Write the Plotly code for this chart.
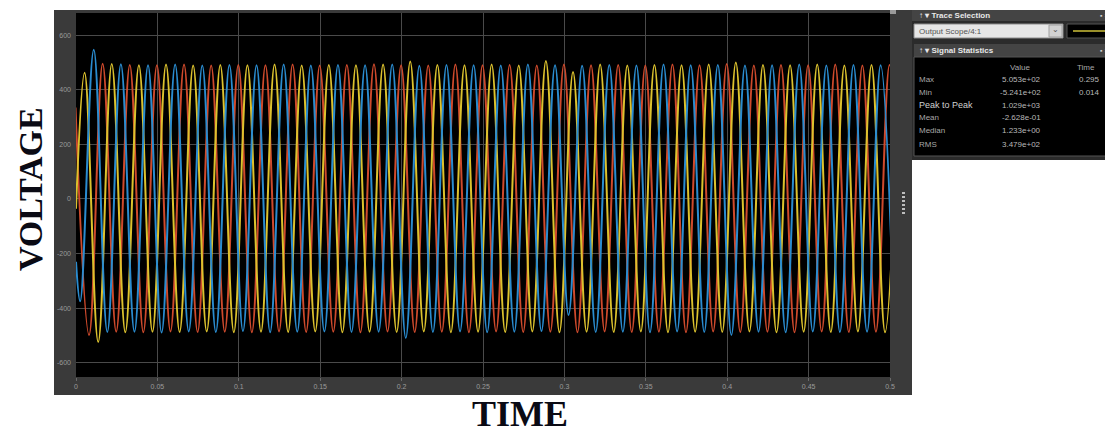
import plotly.graph_objects as go

# ---------------- data ----------------
half_period = 1 / 120          # 60 Hz supply -> extrema every 1/120 s

# phase A (blue): starting value at t=0, then alternating trough/peak values
blue_start_t, blue_start_v = 0.0, -230
blue_first_ext_t = 0.00257
blue_ext = [-375, 546, -487, 493, -486, 490, -489, 492, -485, 489,
            -487, 491, -484, 490, -488, 492, -486, 489, -485, 491,
            -487, 490, -486, 492, -509, 488, -487, 491, -485, 490,
            -488, 489, -486, 492, -484, 490, -425, 488, -487, 491,
            -486, 489, -488, 492, -485, 490, -487, 491, -498, 489,
            -486, 490, -488, 492, -485, 489, -487, 491, -486, 490, -488]

# phase B (red): alternating peak/trough values
red_first_ext_t = -0.0003
red_ext = [335, -498, 495, -486, 491, -488, 490, -485, 492, -487,
           489, -486, 491, -488, 490, -485, 492, -487, 489, -486,
           491, -488, 493, -485, 490, -487, 489, -486, 492, -488,
           490, -485, 491, -487, 489, -486, 492, -488, 490, -485,
           491, -487, 489, -486, 492, -488, 490, -485, 494, -487,
           489, -486, 491, -488, 490, -485, 492, -487, 489, -486,
           491, -488]

# phase C (yellow): starting value at t=0, then alternating peak/trough values
yellow_start_t, yellow_start_v = 0.0, -36
yellow_first_ext_t = 0.0053
yellow_ext = [462, -524, 494, -488, 490, -486, 492, -487, 489, -485,
              491, -488, 490, -486, 492, -487, 489, -485, 491, -488,
              490, -486, 492, -487, 503, -485, 491, -488, 490, -486,
              492, -487, 489, -485, 505, -488, 465, -486, 492, -487,
              489, -485, 491, -488, 490, -486, 492, -487, 500, -485,
              491, -488, 490, -486, 492, -487, 489, -485, 491, -488, 490]

x_ticks = [0, 0.05, 0.1, 0.15, 0.2, 0.25, 0.3, 0.35, 0.4, 0.45, 0.5]
x_tick_labels = ["0", "0.05", "0.1", "0.15", "0.2", "0.25", "0.3", "0.35", "0.4", "0.45", "0.5"]
y_ticks = [-600, -400, -200, 0, 200, 400, 600]
y_tick_labels = ["-600", "-400", "-200", "0", "200", "400", "600"]

stat_labels = ["Max", "Min", "Peak to Peak", "Mean", "Median", "RMS"]
stat_values = ["5.053e+02", "-5.241e+02", "1.029e+03", "-2.628e-01", "1.233e+00", "3.479e+02"]
stat_times = ["0.295", "0.014", "", "", "", ""]

# ---------------- layout helpers ----------------
OFF = 8                      # page body margin in the browser
W, H = 1113 - OFF, 435 - OFF
ML, MR, MT, MB = 76 - OFF, 223, 13 - OFF, 58
PW = W - ML - MR
PH = H - MT - MB


def xp(px):
    return (px - OFF - ML) / PW


def yp(py):
    return (H - MB - (py - OFF)) / PH


def times(t0, n, start=None):
    ts = [t0 + i * half_period for i in range(n)]
    return ([start] if start is not None else []) + ts


blue_t = times(blue_first_ext_t, len(blue_ext), blue_start_t)
blue_v = [blue_start_v] + blue_ext
red_t = times(red_first_ext_t, len(red_ext))
red_v = red_ext
yellow_t = times(yellow_first_ext_t, len(yellow_ext), yellow_start_t)
yellow_v = [yellow_start_v] + yellow_ext

fig = go.Figure()
line_kw = dict(shape="spline", smoothing=1.1, width=2)
fig.add_trace(go.Scatter(x=red_t, y=red_v, mode="lines",
                         line=dict(color="#cf4a2c", **line_kw), name="Phase B"))
fig.add_trace(go.Scatter(x=yellow_t, y=yellow_v, mode="lines",
                         line=dict(color="#dcc22e", **line_kw), name="Phase C"))
fig.add_trace(go.Scatter(x=blue_t, y=blue_v, mode="lines",
                         line=dict(color="#2a8cd0", **line_kw), name="Phase A"))

shapes = []


def rect(x0, y0, x1, y1, fill, line=None, layer="above", lw=1):
    shapes.append(dict(type="rect", xref="paper", yref="paper",
                       x0=xp(x0), x1=xp(x1), y0=yp(y1), y1=yp(y0),
                       fillcolor=fill, layer=layer,
                       line=dict(color=line or fill, width=lw if line else 0)))


# scope frame and plot area
rect(54, 10, 912, 395, "#3a3a3a", layer="below")
rect(76, 13, 890, 377, "#000000", layer="below")
rect(890, 10, 896, 14, "#9a9a9a")
# side panel
rect(912, 10, 1113, 160, "#2b2b2b")
rect(912, 10, 1113, 21, "#444444")
rect(914, 24, 1063, 38, "#e6e6e6", line="#8c8c8c")
rect(1049, 25, 1062, 37, "#d2d2d2", line="#a0a0a0")
rect(1067, 24, 1113, 38, "#000000", line="#555555")
shapes.append(dict(type="line", xref="paper", yref="paper",
                   x0=xp(1073), x1=xp(1108), y0=yp(31), y1=yp(31),
                   line=dict(color="#cdbf38", width=1.5)))
rect(914, 44, 1113, 57, "#444444")
rect(914, 57, 1113, 156, "#000000", line="#555555")
# grip dots
for k in range(6):
    rect(902, 192 + k * 4, 905, 194 + k * 4, "#bdbdbd")

ann = []


def text(x, y, s, size=8, color="#bdbdbd", anchor="left", bold=False, family="Liberation Sans"):
    ann.append(dict(xref="paper", yref="paper", x=xp(x), y=yp(y), text=("<b>%s</b>" % s) if bold else s,
                    showarrow=False, xanchor=anchor, yanchor="middle",
                    font=dict(size=size, color=color, family=family)))


text(917, 15.5, "↑ ▾ Trace Selection", size=8, color="#e8e8e8", bold=True)
text(1098, 15.5, "▪ ×", size=7, color="#cfcfcf")
text(917, 31, "Output Scope/4:1", size=8, color="#555555")
text(1055.5, 30, "⌄", size=8, color="#555555", anchor="center")
text(917, 50.5, "↑ ▾ Signal Statistics", size=8, color="#e8e8e8", bold=True)
text(1098, 50.5, "▪ ×", size=7, color="#cfcfcf")
text(1020, 67, "Value", size=8, color="#a8a8a8", anchor="center")
text(1086, 67, "Time", size=8, color="#a8a8a8", anchor="center")
row_y = [79, 92, 105, 118, 131, 144]
for lab, val, tm, ry in zip(stat_labels, stat_values, stat_times, row_y):
    text(917, ry, lab, size=9 if lab == "Peak to Peak" else 8,
         color="#d0d0d0" if lab == "Peak to Peak" else "#a8a8a8")
    text(1043, ry, val, size=8, color="#b8b8b8", anchor="right")
    if tm:
        text(1102, ry, tm, size=8, color="#b8b8b8", anchor="right")

# outer axis titles
ann.append(dict(xref="paper", yref="paper", x=xp(520), y=yp(414), text="<b>TIME</b>",
                showarrow=False, xanchor="center", yanchor="middle",
                font=dict(size=36, color="#0a0a14", family="Liberation Serif")))
ann.append(dict(xref="paper", yref="paper", x=xp(31), y=yp(189), text="<b>VOLTAGE</b>",
                showarrow=False, xanchor="center", yanchor="middle", textangle=-90,
                font=dict(size=34, color="#0a0a14", family="Liberation Serif")))

fig.update_layout(
    width=W, height=H,
    margin=dict(l=ML, r=MR, t=MT, b=MB, pad=0),
    paper_bgcolor="#ffffff", plot_bgcolor="#000000",
    showlegend=False,
    shapes=shapes, annotations=ann,
    xaxis=dict(range=[0, 0.5], tickvals=x_ticks, ticktext=x_tick_labels,
               showgrid=True, gridcolor="#4a4a4a", gridwidth=1, zeroline=False,
               ticks="outside", ticklen=3, tickcolor="#6a6a6a",
               tickfont=dict(size=7, color="#9a9a9a", family="Liberation Sans"),
               showline=False, fixedrange=True),
    yaxis=dict(range=[-652, 681], tickvals=y_ticks, ticktext=y_tick_labels,
               showgrid=True, gridcolor="#4a4a4a", gridwidth=1, zeroline=False,
               ticks="", ticklabelstandoff=4,
               tickfont=dict(size=7, color="#9a9a9a", family="Liberation Sans"),
               showline=False, fixedrange=True),
)

fig.write_html("out.html")
